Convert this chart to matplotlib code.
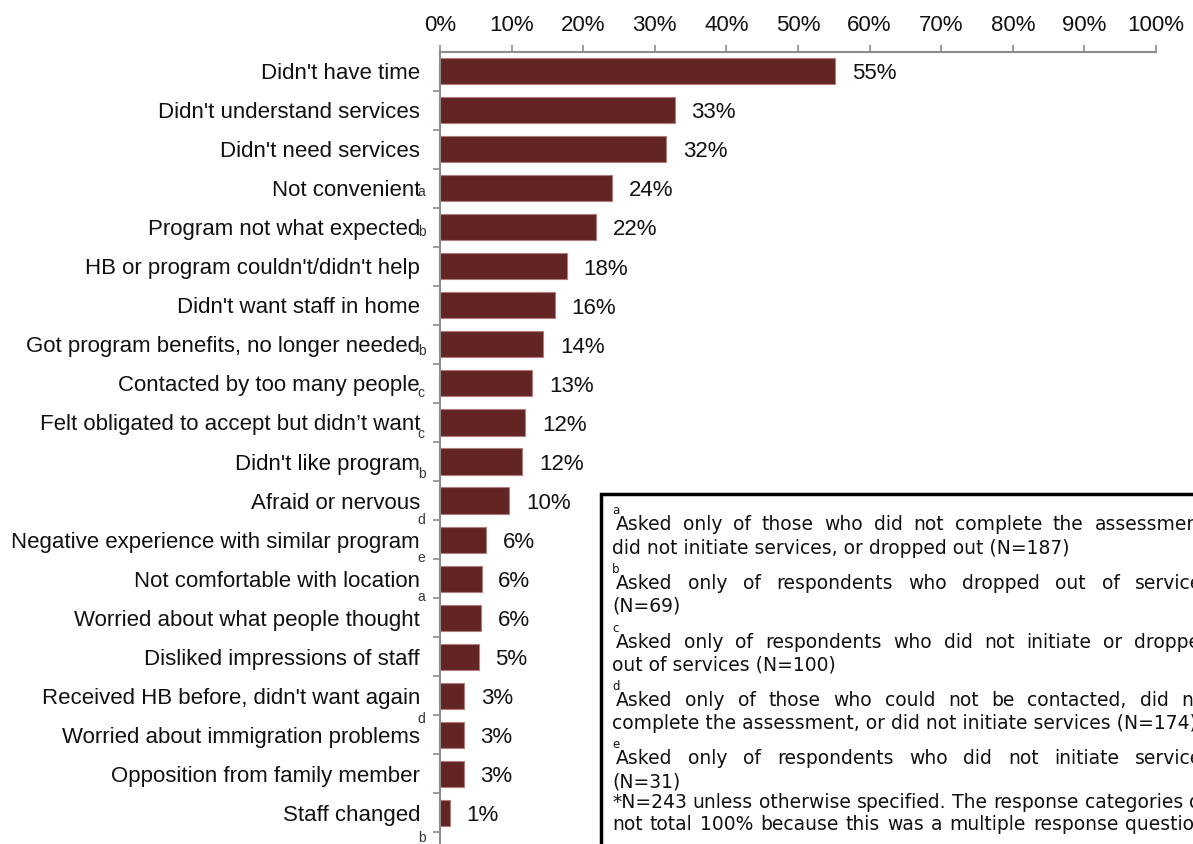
import matplotlib
matplotlib.use("Agg")
import matplotlib.pyplot as plt
from matplotlib.patches import Rectangle
from matplotlib.ticker import FixedLocator, PercentFormatter

# reasons for not taking part, top to bottom
reasons = [
    "Didn't have time",
    "Didn't understand services",
    "Didn't need services",
    "Not convenient",
    "Program not what expected",
    "HB or program couldn't/didn't help",
    "Didn't want staff in home",
    "Got program benefits, no longer needed",
    "Contacted by too many people",
    "Felt obligated to accept but didn\u2019t want",
    "Didn't like program",
    "Afraid or nervous",
    "Negative experience with similar program",
    "Not comfortable with location",
    "Worried about what people thought",
    "Disliked impressions of staff",
    "Received HB before, didn't want again",
    "Worried about immigration problems",
    "Opposition from family member",
    "Staff changed",
]
shares = [55.2, 32.8, 31.6, 24.0, 21.8, 17.7, 16.0, 14.4, 12.9, 11.9,
          11.5, 9.7, 6.4, 5.8, 5.7, 5.4, 3.4, 3.3, 3.3, 1.4]
# footnote letter per reason ("" = asked of everyone)
notes = ["", "", "", "a", "b", "", "", "b", "c", "c",
         "b", "d", "e", "a", "", "", "d", "", "", "b"]
# how far below the label the stray letter sits (px)
note_drop = [0, 0, 0, 4, 5, 0, 0, 7, 10, 12,
             12, 19, 18, 18, 0, 0, 23, 0, 0, 25]

footnotes = [
    ("a", ["Asked only of those who did not complete the assessment,",
           "did not initiate services, or dropped out (N=187)"]),
    ("b", ["Asked only of respondents who dropped out of services",
           "(N=69)"]),
    ("c", ["Asked only of respondents who did not initiate or dropped",
           "out of services (N=100)"]),
    ("d", ["Asked only of those who could not be contacted, did not",
           "complete the assessment, or did not initiate services (N=174)"]),
    ("e", ["Asked only of respondents who did not initiate services",
           "(N=31)"]),
]
general_note = ["*N=243 unless otherwise specified. The response categories do",
                "not total 100% because this was a multiple response question."]

W, H = 1193, 844
BAR = "#632523"
GREY = "#8c8c8c"
plt.rcParams['font.family'] = ['Liberation Sans', 'DejaVu Sans']


def fx(px):
    return px / W


def fy(py):
    return 1 - py / H


def ftext(fig, x, y, s, size):
    return fig.text(fx(x), fy(y), s, fontsize=size, va="center",
                    family="DejaVu Sans", color="#111111", zorder=6)


def justify(fig, line, x0, x1, y, size, renderer):
    words = line.split(" ")
    texts = [ftext(fig, x0, y, w, size) for w in words]
    widths = [t.get_window_extent(renderer).width for t in texts]
    gap = (x1 - x0 - sum(widths)) / (len(words) - 1)
    x = x0
    for t, w in zip(texts, widths):
        t.set_x(fx(x))
        x += w + gap


def main():
    fig = plt.figure(figsize=(W / 100, H / 100), dpi=100)
    top, bot = 51.5, 852
    ax = fig.add_axes([fx(440), fy(bot), fx(1156 - 440), (bot - top) / H])

    y = list(range(len(reasons)))
    ax.barh(y, shares, height=0.67, color=BAR, edgecolor="#b07c7c", linewidth=0.8)
    ax.set_xlim(0, 100)
    ax.set_ylim(20.0, -0.5)

    for i, v in enumerate(shares):
        ax.annotate(f"{v:.0f}%", xy=(v, i), xytext=(12, -2), textcoords="offset points",
                    ha="left", va="center", fontsize=16, color="#111111")

    ax.set_yticks(y)
    ax.set_yticklabels(reasons, fontsize=16, color="#111111")
    ax.yaxis.set_minor_locator(FixedLocator([i + 0.5 for i in range(len(reasons))]))
    ax.tick_params(axis="y", which="major", length=0, pad=14.4)
    ax.tick_params(axis="y", which="minor", length=5, width=1.2, color=GREY)

    ax.xaxis.tick_top()
    ax.set_xticks(range(0, 101, 10))
    ax.xaxis.set_major_formatter(PercentFormatter(decimals=0))
    ax.tick_params(axis="x", length=5, width=1.2, color=GREY, labelsize=16,
                   labelcolor="#111111", pad=6)

    for s in ["right", "bottom"]:
        ax.spines[s].set_visible(False)
    for s in ["left", "top"]:
        ax.spines[s].set_color(GREY)
        ax.spines[s].set_linewidth(1.5)

    for i, (n, d) in enumerate(zip(notes, note_drop)):
        if n:
            ax.annotate(n, xy=(0, i), xytext=(-16, -d * 0.72), textcoords="offset points",
                        ha="left", va="center", fontsize=10, color="#333333")

    # footnote box
    fig.add_artist(Rectangle((fx(601), fy(900)), fx(700), (900 - 494) / H,
                             transform=fig.transFigure, facecolor="white",
                             edgecolor="black", linewidth=2.5, zorder=5))

    renderer = fig.canvas.get_renderer()
    size = 13.5
    line1 = 525
    for letter, lines in footnotes:
        ftext(fig, 612, line1 - 14, letter, 8.5)
        justify(fig, lines[0], 616, 1212, line1, size, renderer)
        ftext(fig, 612, line1 + 23, lines[1], size)
        line1 += 58.5
    last = line1 - 58.5 + 23
    justify(fig, general_note[0], 612, 1212, last + 21, size, renderer)
    justify(fig, general_note[1], 612, 1212, last + 43, size, renderer)

    fig.savefig("out.png", dpi=100)


if __name__ == "__main__":
    main()
